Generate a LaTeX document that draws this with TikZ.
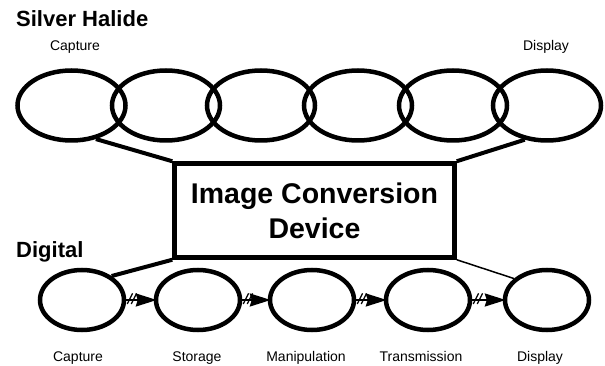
\documentclass[tikz,border=0pt]{standalone}
\usepackage{fontspec}
\setmainfont{Liberation Sans}
\usetikzlibrary{shapes.geometric,arrows.meta,decorations.markings}
\begin{document}
\begin{tikzpicture}[x=1pt,y=-1pt,
  silver/.style={ellipse,draw,line width=4.5pt,minimum width=108pt,minimum height=70pt,inner sep=0pt},
  digi/.style={ellipse,draw,line width=4.5pt,minimum width=84pt,minimum height=60pt,inner sep=0pt},
  lbl/.style={font=\fontsize{14}{16}\selectfont,inner sep=0pt,anchor=base},
  heading/.style={font=\bfseries\fontsize{22}{26}\selectfont,inner sep=0pt,anchor=base west},
  devbox/.style={draw,line width=4.5pt,minimum width=280pt,minimum height=94pt,inner sep=0pt,align=center,
    font=\bfseries\fontsize{28.5}{35}\selectfont},
  biglink/.style={line width=4pt},
  thinlink/.style={line width=1.5pt},
  flow/.style={line width=2pt,-{Stealth[length=21pt,width=13pt,inset=2pt]},shorten >=-3pt,
    postaction=decorate,
    decoration={markings,
      mark=at position 3pt with {\draw[-,line width=1.3pt] (-2pt,-4pt)--(2pt,4pt);},
      mark=at position 7pt with {\draw[-,line width=1.3pt] (-2pt,-4pt)--(2pt,4pt);}}}
]
\useasboundingbox (0,0) rectangle (605,366);

% headings
\node[heading] (tsh) at (16,27) {Silver Halide};
\node[heading] (tdg) at (16,257) {Digital};

% silver halide chain
\node[silver] (s1) at (71.5,105.5) {};
\node[silver] (s2) at (166,105.5) {};
\node[silver] (s3) at (261,105.5) {};
\node[silver] (s4) at (358,105.5) {};
\node[silver] (s5) at (453,105.5) {};
\node[silver] (s6) at (547,105.5) {};
\node[lbl] (ls1) at (75,51) {Capture};
\node[lbl] (ls6) at (546,51) {Display};

% device
\node[devbox] (dev) at (314.5,210.5) {Image Conversion\\Device};

% digital chain
\node[digi] (d1) at (82,300) {};
\node[digi] (d2) at (198,300) {};
\node[digi] (d3) at (312,300) {};
\node[digi] (d4) at (428,300) {};
\node[digi] (d5) at (547,300) {};
\node[lbl] (ld1) at (78,361) {Capture};
\node[lbl] (ld2) at (197,361) {Storage};
\node[lbl] (ld3) at (306,361) {Manipulation};
\node[lbl] (ld4) at (421,361) {Transmission};
\node[lbl] (ld5) at (540,361) {Display};

% connectors
\draw[biglink] (s1.-54) -- (dev.north west);
\draw[biglink] (s6.-123) -- (dev.north east);
\draw[biglink] (d1.39) -- (dev.south west);
\draw[thinlink] (dev.south east) -- (d5.147);

\draw[flow] (d1.east) -- (d2.west);
\draw[flow] (d2.east) -- (d3.west);
\draw[flow] (d3.east) -- (d4.west);
\draw[flow] (d4.east) -- (d5.west);
\end{tikzpicture}
\end{document}
